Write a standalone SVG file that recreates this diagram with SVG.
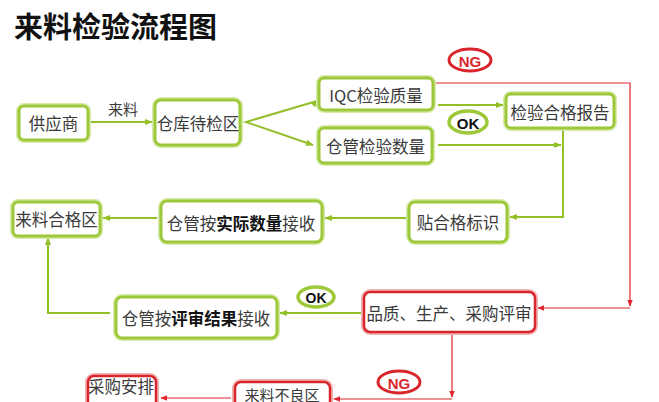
<svg xmlns="http://www.w3.org/2000/svg" width="659" height="402" viewBox="0 0 659 402">
<style>
text{font-family:"Noto Sans CJK SC","Noto Sans",sans-serif;}
.t{font-size:16.5px;fill:#3a3a3a;text-anchor:middle;dominant-baseline:central;}
.b{font-weight:bold;fill:#111;}
.gglow{fill:none;stroke:#d6ebaa;stroke-width:6;}
.g{fill:#fff;stroke:#9cc83a;stroke-width:3;}
.rglow{fill:none;stroke:#f2b3b3;stroke-width:6;}
.r{fill:#fff;stroke:#d8262c;stroke-width:2.5;}
.gl{fill:none;stroke:#93c029;stroke-width:2;}
.rl{fill:none;stroke:#e0262c;stroke-width:1.2;}
.badge{font-family:"Liberation Sans",Arial,sans-serif;font-weight:bold;text-anchor:middle;dominant-baseline:central;}
</style>
<defs>
<marker id="ga" viewBox="0 0 10 10" refX="9" refY="5" markerWidth="4" markerHeight="4" orient="auto" markerUnits="strokeWidth"><path d="M0,1 L10,5 L0,9 z" fill="#93c029"/></marker>
<marker id="ra" viewBox="0 0 10 10" refX="9" refY="5" markerWidth="6" markerHeight="6" orient="auto" markerUnits="strokeWidth"><path d="M0,1 L10,5 L0,9 z" fill="#e0262c"/></marker>
</defs>
<rect width="659" height="402" fill="#fff"/>
<text x="14" y="38" style="font-size:29px;font-weight:bold;fill:#111;">来料检验流程图</text>

<g id="connectors">
<line class="gl" x1="91" y1="122" x2="152" y2="122" marker-end="url(#ga)"/>
<text x="123" y="108" class="t" style="font-size:15px">来料</text>
<polyline class="gl" points="317,101 246,122 313,145" marker-end="url(#ga)"/>
<line class="gl" x1="317" y1="101" x2="318" y2="100" marker-end="url(#ga)"/>
<line class="gl" x1="438" y1="105" x2="503" y2="105" marker-end="url(#ga)"/>
<line class="gl" x1="438" y1="145" x2="561" y2="145" marker-end="url(#ga)"/>
<polyline class="gl" points="563,128 563,217 510,217" marker-end="url(#ga)"/>
<line class="gl" x1="406" y1="218" x2="325" y2="218" marker-end="url(#ga)"/>
<line class="gl" x1="157" y1="218" x2="103" y2="218" marker-end="url(#ga)"/>
<polyline class="gl" points="110,313 48,313 48,238" marker-end="url(#ga)"/>
<line class="gl" x1="361" y1="313" x2="280" y2="313" marker-end="url(#ga)"/>
<polyline class="rl" points="434,83 630,83 630,306" marker-end="url(#ra)"/>
<polyline class="rl" points="630,308 538,308" marker-end="url(#ra)"/>
<polyline class="rl" points="452,333 452,397" marker-end="url(#ra)"/>
<line class="rl" x1="452" y1="399" x2="334" y2="399" marker-end="url(#ra)"/>
<line class="rl" x1="231" y1="398" x2="161" y2="398" marker-end="url(#ra)"/>
</g>

<g id="supplier"><rect class="gglow" x="19" y="106" width="69" height="34" rx="5"/><rect class="g" x="19" y="106" width="69" height="34" rx="5"/><text class="t" x="53.5" y="123">供应商</text></g>
<g id="pending"><rect class="gglow" x="155" y="100" width="85" height="45" rx="6"/><rect class="g" x="155" y="100" width="85" height="45" rx="6"/><text class="t" x="198" y="123">仓库待检区</text></g>
<g id="iqc"><rect class="gglow" x="319" y="78" width="114" height="32" rx="5"/><rect class="g" x="319" y="78" width="114" height="32" rx="5"/><text class="t" x="376" y="95">IQC检验质量</text></g>
<g id="qty"><rect class="gglow" x="319" y="128" width="113" height="35" rx="5"/><rect class="g" x="319" y="128" width="113" height="35" rx="5"/><text class="t" x="375.5" y="146">仓管检验数量</text></g>
<g id="report"><rect class="gglow" x="506" y="94" width="108" height="34" rx="5"/><rect class="g" x="506" y="94" width="108" height="34" rx="5"/><text class="t" x="560" y="112">检验合格报告</text></g>
<g id="label"><rect class="gglow" x="409" y="202" width="98" height="40" rx="6"/><rect class="g" x="409" y="202" width="98" height="40" rx="6"/><text class="t" x="458" y="222">贴合格标识</text></g>
<g id="recv1"><rect class="gglow" x="161" y="201" width="161" height="41" rx="6"/><rect class="g" x="161" y="201" width="161" height="41" rx="6"/><text class="t" x="241" y="223">仓管按<tspan class="b">实际数量</tspan>接收</text></g>
<g id="okzone"><rect class="gglow" x="13" y="202" width="87" height="34" rx="5"/><rect class="g" x="13" y="202" width="87" height="34" rx="5"/><text class="t" x="56.5" y="219">来料合格区</text></g>
<g id="recv2"><rect class="gglow" x="116" y="297" width="161" height="41" rx="6"/><rect class="g" x="116" y="297" width="161" height="41" rx="6"/><text class="t" x="196" y="318">仓管按<tspan class="b">评审结果</tspan>接收</text></g>
<g id="review"><rect class="rglow" x="364" y="292" width="171" height="40" rx="6"/><rect class="r" x="364" y="292" width="171" height="40" rx="6"/><text class="t" x="449" y="313">品质、生产、采购评审</text></g>
<g id="badzone"><rect class="rglow" x="235" y="382" width="95" height="40" rx="6"/><rect class="r" x="235" y="382" width="95" height="40" rx="6"/><text class="t" x="282" y="394" style="font-size:15px">来料不良区</text></g>
<g id="purchase"><rect class="rglow" x="88" y="376" width="68" height="40" rx="6"/><rect class="r" x="88" y="376" width="68" height="40" rx="6"/><text class="t" x="121" y="386">采购安排</text></g>

<g id="ng1"><ellipse cx="470" cy="60" rx="21" ry="11" fill="#fff" stroke="#d8262c" stroke-width="3"/><text class="badge" x="470" y="61" style="font-size:15px;fill:#d8262c">NG</text></g>
<g id="ok1"><ellipse cx="468" cy="122" rx="19" ry="11" fill="#fff" stroke="#9cc83a" stroke-width="3.5"/><text class="badge" x="468" y="123" style="font-size:15px;fill:#111">OK</text></g>
<g id="ok2"><ellipse cx="316" cy="297" rx="18" ry="10" fill="#fff" stroke="#9cc83a" stroke-width="3.5"/><text class="badge" x="316" y="298" style="font-size:14px;fill:#111">OK</text></g>
<g id="ng2"><ellipse cx="399" cy="382" rx="21" ry="11" fill="#fff" stroke="#d8262c" stroke-width="3"/><text class="badge" x="399" y="383" style="font-size:15px;fill:#d8262c">NG</text></g>
</svg>
